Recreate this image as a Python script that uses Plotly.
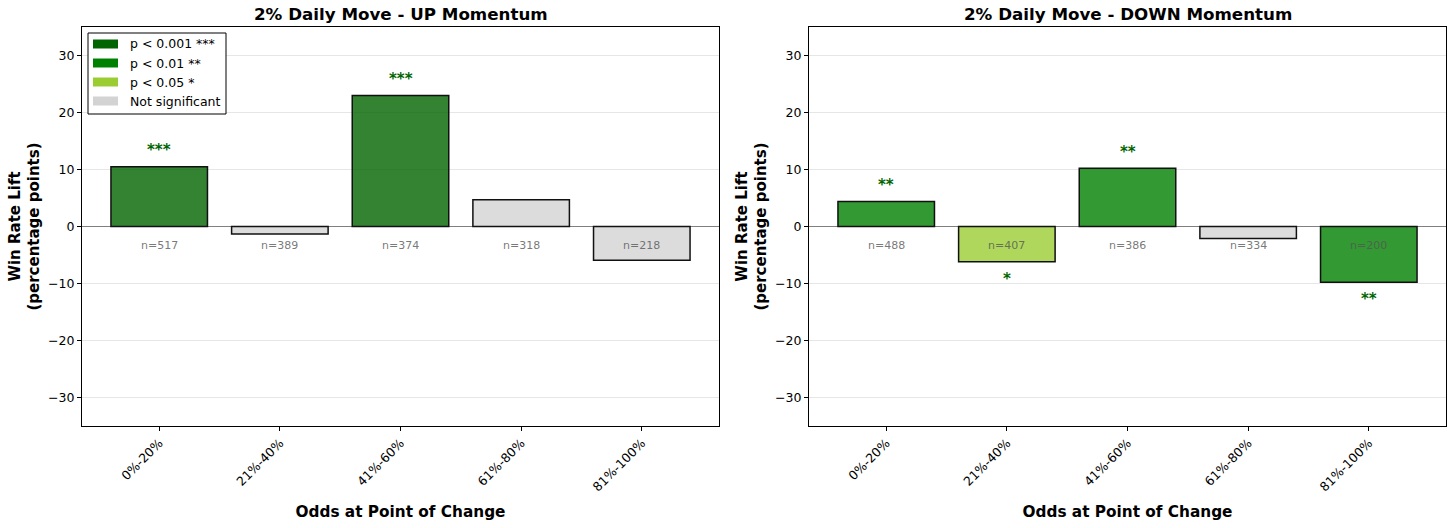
import plotly.graph_objects as go
from plotly.subplots import make_subplots

categories = ["0%-20%", "21%-40%", "41%-60%", "61%-80%", "81%-100%"]
up_lift = [10.5, -1.3, 23.0, 4.7, -5.9]
up_n = [517, 389, 374, 318, 218]
up_sig = ["***", "", "***", "", ""]
down_lift = [4.4, -6.2, 10.2, -2.1, -9.8]
down_n = [488, 407, 386, 334, 200]
down_sig = ["**", "*", "**", "", "**"]

sig_colors = {"***": "rgba(0,100,0,0.8)", "**": "rgba(0,128,0,0.8)",
              "*": "rgba(154,205,50,0.8)", "": "rgba(211,211,211,0.8)"}
legend_items = [("p < 0.001 ***", "#006400"), ("p < 0.01 **", "#008000"),
                ("p < 0.05 *", "#9acd32"), ("Not significant", "#d3d3d3")]

FONT = "DejaVu Sans"
W, H = 1456, 528
ML, MR, MT, MB = 82, 10, 27, 102
PW = W - ML - MR
PH = H - MT - MB
left_w = 637 / PW
gap_start = (809 - ML) / PW

fig = make_subplots(rows=1, cols=2, horizontal_spacing=gap_start - left_w)

panels = [(up_lift, up_n, up_sig, "2% Daily Move - UP Momentum"),
          (down_lift, down_n, down_sig, "2% Daily Move - DOWN Momentum")]
xs = list(range(len(categories)))
annotations = []
for i, (lift, ns, sig, title) in enumerate(panels):
    col = i + 1
    xr = "x" if i == 0 else "x2"
    yr = "y" if i == 0 else "y2"
    fig.add_trace(go.Bar(x=xs, y=lift, width=0.8,
                         marker=dict(color=[sig_colors[s] for s in sig],
                                     line=dict(color="#111111", width=1.5)),
                         showlegend=False, hoverinfo="skip"), row=1, col=col)
    for x, v, n, s in zip(xs, lift, ns, sig):
        annotations.append(dict(x=x, y=-3.3, xref=xr, yref=yr, text=f"n={n}",
                                showarrow=False, yanchor="middle",
                                font=dict(family=FONT, size=11, color="rgba(85,85,85,0.8)")))
        if s:
            if v >= 0:
                annotations.append(dict(x=x, y=v + 1, xref=xr, yref=yr, text=f"<b>{s}</b>",
                                        showarrow=False, yanchor="bottom",
                                        font=dict(family=FONT, size=15, color="#006400")))
            else:
                annotations.append(dict(x=x, y=v - 1, xref=xr, yref=yr, text=f"<b>{s}</b>",
                                        showarrow=False, yanchor="top",
                                        font=dict(family=FONT, size=15, color="#006400")))
    annotations.append(dict(x=0.5, y=1, xref=f"{xr} domain", yref=f"{yr} domain",
                            text=f"<b>{title}</b>", showarrow=False, yanchor="bottom",
                            yshift=1, font=dict(family=FONT, size=16.7, color="black")))
    fig.update_xaxes(tickvals=xs, ticktext=categories, tickangle=-45, range=[-0.64, 4.64],
                     showline=True, linecolor="black", linewidth=1, mirror=True,
                     ticks="outside", ticklen=4, tickcolor="black", showgrid=False,
                     zeroline=False, automargin=False,
                     tickfont=dict(family=FONT, size=12.5, color="black"),
                     title=dict(text="<b>Odds at Point of Change</b>", standoff=12,
                                font=dict(family=FONT, size=15.3, color="black")),
                     row=1, col=col)
    fig.update_yaxes(range=[-35, 35], tickvals=[-30, -20, -10, 0, 10, 20, 30],
                     showline=True, linecolor="black", linewidth=1, mirror=True,
                     ticks="outside", ticklen=4, tickcolor="black",
                     showgrid=True, gridcolor="rgba(200,200,200,0.45)", gridwidth=1,
                     zeroline=True, zerolinecolor="#808080", zerolinewidth=1,
                     automargin=False,
                     tickfont=dict(family=FONT, size=12.5, color="black"),
                     title=dict(text="<b>Win Rate Lift<br>(percentage points)</b>", standoff=4,
                                font=dict(family=FONT, size=15, color="black")),
                     row=1, col=col)

# manual legend in left panel (axes-fraction coordinates)
shapes = [dict(type="rect", xref="x domain", yref="y domain",
               x0=6 / 637, x1=144 / 637, y0=1 - 87 / PH, y1=1 - 6 / PH,
               line=dict(color="black", width=1), fillcolor="white", layer="above")]
row_y = [17, 36, 55, 74]
for (label, colr), yc in zip(legend_items, row_y):
    shapes.append(dict(type="rect", xref="x domain", yref="y domain",
                       x0=11 / 637, x1=36 / 637, y0=1 - (yc + 4.5) / PH, y1=1 - (yc - 4.5) / PH,
                       line=dict(width=0), fillcolor=colr, layer="above"))
    annotations.append(dict(x=46 / 637, y=1 - yc / PH, xref="x domain", yref="y domain",
                            text=label, showarrow=False, xanchor="left", yanchor="middle",
                            font=dict(family=FONT, size=12.5, color="black")))

fig.update_layout(width=W, height=H, margin=dict(l=ML, r=MR, t=MT, b=MB),
                  plot_bgcolor="white", paper_bgcolor="white", bargap=0.2,
                  annotations=annotations, shapes=shapes, showlegend=False,
                  font=dict(family=FONT))
fig.write_html("out.html", config={"displayModeBar": False},
               post_script="document.body.style.margin='0';")
